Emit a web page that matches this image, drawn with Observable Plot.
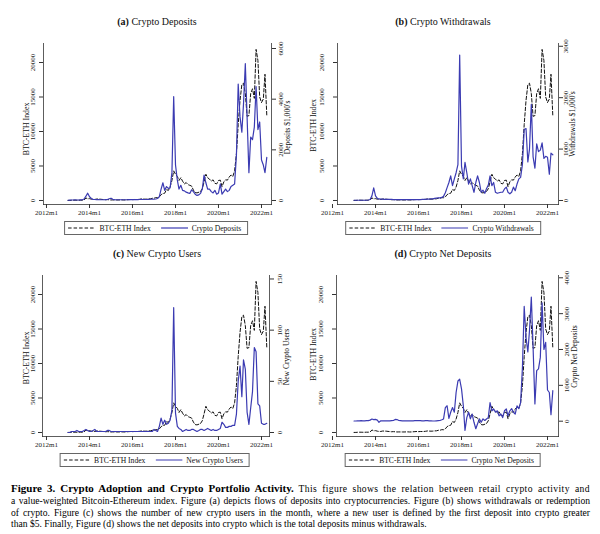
<!DOCTYPE html>
<html><head><meta charset="utf-8">
<script src="https://cdn.jsdelivr.net/npm/d3@7"></script>
<script src="https://cdn.jsdelivr.net/npm/@observablehq/plot@0.6"></script>
<style>
body{margin:0;background:#fff;width:600px;height:534px;position:relative;overflow:hidden;font-family:"Liberation Serif",serif;color:#111}
.panel{position:absolute;width:300px;height:240px}
.title{position:absolute;font-size:10px;white-space:nowrap;transform:translate(-50%,-50%);line-height:1}
.svgwrap{position:absolute;left:0;top:30px;width:300px;height:188px}
.svgwrap svg{position:absolute;left:0;top:0;overflow:visible}
.legend{position:absolute;height:14px;border:0.8px solid #666;display:flex;align-items:center;font-size:7.6px;white-space:nowrap;transform:translateX(-50%);padding:0 6px 0 3px;box-sizing:border-box;background:#fff}
.legend svg{display:block}
.caption{position:absolute;left:11px;top:482px;width:579px;font-size:9.6px;color:#000}
.caption .ln{white-space:normal;text-align:justify;text-align-last:justify;height:11.6px;line-height:11.6px}
.caption .ln.first{height:13px;line-height:13px}
.caption .ln.last{text-align-last:left}
.caption b{font-size:11px}
.caption .wide{letter-spacing:0.4px}
</style></head><body>
<script>
// ---- data (monthly, 2013m1 .. 2022m4) ----
const startYear = 2013;
const btcIndex = [
 10,12,30,45,42,32,35,45,45,65,370,240,
 270,190,150,150,210,210,190,160,130,110,125,105,
 75,85,80,78,76,87,94,76,78,104,125,142,
 122,145,138,148,175,222,206,190,201,231,246,318,
 330,410,400,520,850,1000,1050,1600,1450,1950,2900,4300,
 3800,3500,2900,3300,2800,2400,2600,2300,2200,2100,1500,1150,
 1100,1200,1300,1700,2700,3800,3300,3100,2800,3000,2500,2400,
 2900,2950,2000,2700,3000,2950,3400,3700,3500,4300,6800,11000,
 14500,16800,17000,15500,12200,12300,15500,16200,14800,21900,20300,15000,
 14200,14700,18300,12300];
const deposits = [
 10,15,20,20,25,20,20,25,30,60,170,290,
 150,80,45,40,35,35,30,30,30,35,40,70,
 90,45,35,30,30,30,30,30,30,30,35,35,
 35,35,35,35,40,45,40,40,40,45,50,60,
 50,60,80,150,450,700,400,550,480,500,1100,4100,
 1400,800,450,600,400,380,330,300,280,420,350,250,
 200,220,280,450,1000,700,450,450,350,300,400,250,
 300,650,250,350,450,350,400,550,600,650,1800,4600,
 3300,2700,3800,5400,3300,1100,2500,2400,2900,4500,2800,3100,
 1600,1400,1100,1700];
const withdrawals = [
 5,5,5,5,5,5,5,5,10,20,90,245,
 90,40,30,25,25,20,20,20,20,20,15,15,
 15,15,15,15,15,15,15,15,15,15,15,15,
 15,15,20,20,20,25,25,30,30,40,45,50,
 50,60,80,150,250,350,480,290,420,540,700,2830,
 670,420,740,540,320,420,290,160,350,480,350,160,
 200,140,230,300,480,290,350,160,140,150,160,160,
 225,260,160,130,160,260,190,320,420,450,700,1380,
 1400,750,1000,1870,850,630,1100,950,980,1120,820,860,
 840,510,920,890];
const newUsers = [
 0,0,1,1,1,2,1,1,1,2,3,2,
 1,1,2,3,1,1,1,1,1,1,2,2,
 1,1,1,1,1,1,1,1,1,1,1,1,
 1,1,1,1,1,1,1,1,1,1,1,1,
 3,2,1,6,14,8,12,8,9,12,22,122,
 19,6,4,3,1,2,3,2,2,3,3,2,
 1,2,3,3,2,3,4,3,2,3,2,2,
 3,4,10,8,5,5,6,6,7,7,18,50,
 65,35,71,62,20,8,24,40,83,79,28,26,
 9,8,8,9];
const netDeposits = [
 5,5,10,10,15,10,10,15,15,30,60,45,
 50,30,-30,10,10,10,10,10,10,15,20,50,
 45,20,15,10,10,10,10,10,10,10,15,15,
 15,15,10,10,15,15,10,10,5,5,10,15,
 20,40,60,380,430,80,250,380,250,800,1120,1170,
 900,430,-260,100,250,65,200,-30,-210,-70,65,-30,
 65,20,60,100,520,290,340,250,290,150,200,100,
 290,340,150,290,350,250,200,430,350,520,1500,3200,
 2340,1930,2530,3460,2060,480,1410,1460,1780,3300,2000,2200,
 870,800,180,850];
const xTickYears = [2012,2014,2016,2018,2020,2022];
const leftTicks = [0,5000,10000,15000,20000];
const depositTicks = [0,2000,4000,6000];
const withdrawalTicks = [0,1000,2000,3000];
const userTicks = [0,50,100,150];
const netTicks = [0,1000,2000,3000,4000];
const indexName = "BTC-ETH Index";
const blue = "#3b3bb2";

const rows = btcIndex.map((v,i)=>({
  date:new Date(Date.UTC(startYear,i,1)), btc:v,
  deposits:deposits[i], withdrawals:withdrawals[i], newUsers:newUsers[i], netDeposits:netDeposits[i]}));

function decYear(y){const yr=Math.floor(y),f=y-yr,a=Date.UTC(yr,0,1),b=Date.UTC(yr+1,0,1);return new Date(a+f*(b-a));}

const panels = [
 {key:"deposits",tag:"(a)",name:"Crypto Deposits",rLabel:"Deposits $1,000's",rTicks:depositTicks,rDomain:[-158,6198],
  px:0,py:0,fL:43,fR:271,x12:46,lPad:4.3,lDx:-16.7,lDy:5,rPad:2.3,rDx:16,rDy:3.5,titleX:157,legX:156.4},
 {key:"withdrawals",tag:"(b)",name:"Crypto Withdrawals",rLabel:"Withdrawals $1,000's",rTicks:withdrawalTicks,rDomain:[-78,3054],
  px:300,py:0,fL:37,fR:258,x12:32,lPad:10,lDx:-23.7,lDy:1.5,rPad:0.5,rDx:14,rDy:0,titleX:143,legX:143},
 {key:"newUsers",tag:"(c)",name:"New Crypto Users",rLabel:"New Crypto Users",rTicks:userTicks,rDomain:[-3.9,153.4],
  px:0,py:232,fL:42,fR:269,x12:46,lPad:3.3,lDx:-15.7,lDy:2,rPad:3.6,rDx:17,rDy:1,titleX:157,legX:154.5},
 {key:"netDeposits",tag:"(d)",name:"Crypto Net Deposits",rLabel:"Crypto Net Deposits",rTicks:netTicks,rDomain:[-427,4064],
  px:300,py:232,fL:36,fR:258,x12:32,lPad:9.3,lDx:-22.7,lDy:-1.5,rPad:2,rDx:16,rDy:0.5,titleX:143,legX:142.5}
];

const W=300,H=188,MT=13,MB=14,PXY=21.5;
const baseStyle={fontFamily:"Liberation Serif",fontSize:"7px",background:"transparent",color:"#222",overflow:"visible"};

for(const p of panels){
  const div=document.createElement("div");
  div.className="panel";div.style.left=p.px+"px";div.style.top=p.py+"px";
  document.body.appendChild(div);
  const t=document.createElement("div");t.className="title";
  t.style.left=p.titleX+"px";t.style.top="21.5px";
  t.innerHTML="<b>"+p.tag+"</b> "+p.name;div.appendChild(t);

  const xDomain=[decYear(2012+(p.fL-p.x12)/PXY),decYear(2012+(p.fR-p.x12)/PXY)];
  const xTicks=xTickYears.map(y=>new Date(Date.UTC(y,0,1)));
  const common={width:W,height:H,marginLeft:p.fL,marginRight:W-p.fR,marginTop:MT,marginBottom:MB,style:baseStyle};

  const left=Plot.plot({...common,
    x:{type:"utc",domain:xDomain},
    y:{domain:[-580,22754]},
    marks:[
      Plot.frame({anchor:"left",stroke:"#333",strokeWidth:0.8}),
      Plot.frame({anchor:"bottom",stroke:"#333",strokeWidth:0.8}),
      Plot.axisX({ticks:xTicks,tickFormat:d=>d.getUTCFullYear()+"m1",tickSize:4,tickPadding:2,label:null,stroke:"#333"}),
      Plot.axisY({ticks:leftTicks,tickFormat:d=>String(d),tickSize:4,tickPadding:p.lPad,tickRotate:-90,label:null,stroke:"#333"}),
      Plot.text([indexName],{frameAnchor:"left",textAnchor:"middle",lineAnchor:"middle",dx:p.lDx,dy:p.lDy,rotate:-90,fontSize:7.8,fill:"#111"}),
      Plot.lineY(rows,{x:"date",y:"btc",stroke:"#111",strokeWidth:1,strokeDasharray:"3.5,2"})
    ]});
  const right=Plot.plot({...common,
    x:{type:"utc",domain:xDomain,axis:null},
    y:{domain:p.rDomain},
    marks:[
      Plot.frame({anchor:"right",stroke:"#333",strokeWidth:0.8}),
      Plot.axisY({anchor:"right",ticks:p.rTicks,tickFormat:d=>String(d),tickSize:4,tickPadding:p.rPad,tickRotate:-90,lineAnchor:"top",label:null,stroke:"#333"}),
      Plot.text([p.rLabel],{frameAnchor:"right",textAnchor:"middle",lineAnchor:"middle",dx:p.rDx,dy:p.rDy,rotate:-90,fontSize:7.6,fill:"#111"}),
      Plot.lineY(rows,{x:"date",y:p.key,stroke:blue,strokeWidth:1.2})
    ]});
  const wrap=document.createElement("div");wrap.className="svgwrap";
  wrap.appendChild(left);wrap.appendChild(right);div.appendChild(wrap);

  const leg=document.createElement("div");leg.className="legend";
  leg.style.left=p.legX+"px";leg.style.top="221px";
  leg.innerHTML=
    '<svg width="26" height="6"><line x1="0" y1="3" x2="26" y2="3" stroke="#111" stroke-width="1" stroke-dasharray="3.5,2"/></svg>'+
    '<span style="margin-left:5px">'+indexName+'</span>'+
    '<svg width="27" height="6" style="margin-left:10px"><line x1="0" y1="3" x2="27" y2="3" stroke="'+blue+'" stroke-width="1.2"/></svg>'+
    '<span style="margin-left:4px">'+p.name+'</span>';
  div.appendChild(leg);
}

const cap=document.createElement("div");cap.className="caption";
cap.innerHTML=
 '<div class="ln first"><b>Figure 3. Crypto Adoption and Crypto Portfolio Activity.</b> <span class="wide">This figure shows the relation between retail crypto activity and</span></div>'+
 '<div class="ln">a value-weighted Bitcoin-Ethereum index. Figure (a) depicts flows of deposits into cryptocurrencies. Figure (b) shows withdrawals or redemption</div>'+
 '<div class="ln">of crypto. Figure (c) shows the number of new crypto users in the month, where a new user is defined by the first deposit into crypto greater</div>'+
 '<div class="ln last">than $5. Finally, Figure (d) shows the net deposits into crypto which is the total deposits minus withdrawals.</div>';
document.body.appendChild(cap);
</script>
</body></html>
